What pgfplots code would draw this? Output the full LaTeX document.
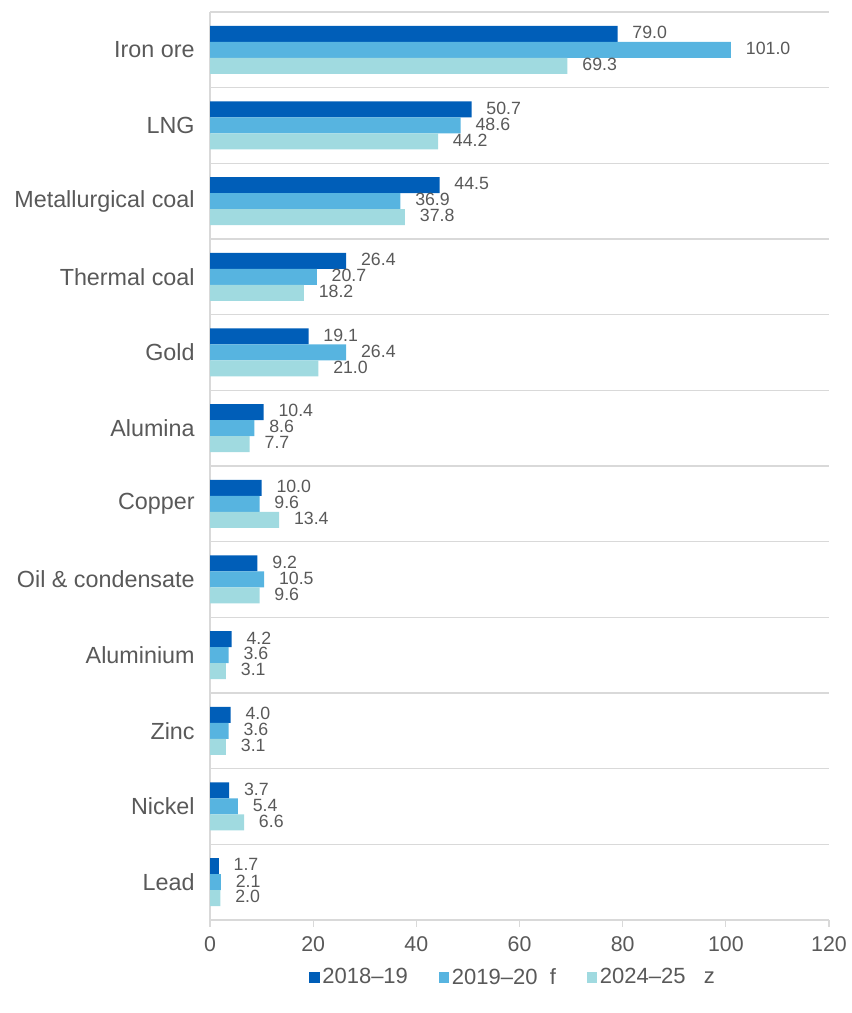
\documentclass[border=0pt]{standalone}
\usepackage{pgfplots}
\pgfplotsset{compat=1.18}
\usepackage{fontspec}
\setmainfont{Liberation Sans}
\definecolor{cA}{HTML}{005EB8}
\definecolor{cB}{HTML}{57B4E0}
\definecolor{cC}{HTML}{A0DAE0}
\definecolor{txt}{HTML}{595959}
\definecolor{grd}{HTML}{D9D9D9}
\pgfplotstableread{
y a b c
11 79.0 101.0 69.3
10 50.7 48.6 44.2
9 44.5 36.9 37.8
8 26.4 20.7 18.2
7 19.1 26.4 21.0
6 10.4 8.6 7.7
5 10.0 9.6 13.4
4 9.2 10.5 9.6
3 4.2 3.6 3.1
2 4.0 3.6 3.1
1 3.7 5.4 6.6
0 1.7 2.1 2.0
}\datatab
\begin{document}
\begin{tikzpicture}
\useasboundingbox (0,0) rectangle (639pt,759.75pt);
\begin{axis}[
 at={(157.5pt,69.75pt)}, anchor=south west,
 scale only axis, width=464.25pt, height=681pt,
 xmin=0, xmax=120, ymin=-0.5, ymax=11.5,
 xtick={0,20,...,120},
 ytick={0,...,11},
 yticklabels={Lead, Nickel, Zinc, Aluminium, Oil \& condensate, Copper, Alumina, Gold, Thermal coal, Metallurgical coal, LNG, Iron ore},
 minor ytick={-0.5,0.5,1.5,2.5,3.5,4.5,5.5,6.5,7.5,8.5,9.5,10.5,11.5},
 yminorgrids, minor grid style={grd, line width=0.9pt},
 axis x line*=bottom, axis y line*=left,
 axis line style={grd, line width=0.9pt},
 ytick style={draw=none}, minor tick length=0pt,
 xtick style={grd, line width=0.9pt}, tick align=outside, major tick length=5pt,
 ticklabel style={font=\fontsize{16}{19}\selectfont, text=txt},
 yticklabel style={font=\fontsize{17.5}{20}\selectfont, xshift=-3pt},
 xticklabel style={yshift=-4pt},
 /pgf/number format/assume math mode=true,
 xbar, bar width=12pt,
 nodes near coords={\pgfmathprintnumber[fixed,fixed zerofill,precision=1]{\pgfplotspointmeta}},
 nodes near coords style={font=\fontsize{13.3}{14}\selectfont, text=txt, anchor=west, inner sep=0pt, xshift=11pt, yshift=1pt},
 legend style={at={(rel axis cs:0.49,-0.063)}, anchor=center, draw=none, legend columns=3,
   font=\fontsize{16.5}{19}\selectfont, text=txt,
   /tikz/every even column/.append style={column sep=21pt}},
 legend image code/.code={\fill[#1] (-2pt,-4pt) rectangle (6pt,4pt);},
 clip=false,
]
\addplot[fill=cA, draw=none, bar shift=12pt] table[x=a,y=y]{\datatab};
\addplot[fill=cB, draw=none, bar shift=0pt] table[x=b,y=y]{\datatab};
\addplot[fill=cC, draw=none, bar shift=-12pt] table[x=c,y=y]{\datatab};
\legend{2018–19, 2019–20\ \ f, 2024–25\ \ \ z}
\end{axis}
\end{tikzpicture}
\end{document}
